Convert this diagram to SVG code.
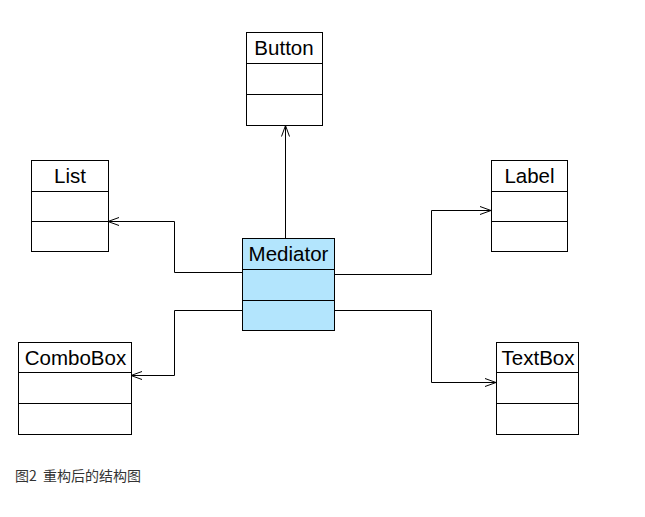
<svg xmlns="http://www.w3.org/2000/svg" width="645" height="517" viewBox="0 0 645 517">
<style>
.box{fill:#fff;stroke:#000;stroke-width:1}
.med{fill:#b3e5fd;stroke:#000;stroke-width:1}
.div{stroke:#000;stroke-width:1;fill:none}
.name{font-family:"Liberation Sans",Arial,sans-serif;font-size:20.5px;fill:#000;text-anchor:middle}
.conn{fill:none;stroke:#000;stroke-width:1}
.cap{font-family:"Noto Sans CJK SC","Liberation Sans",sans-serif;font-size:14px;fill:#333;white-space:pre}
</style>
<defs>
<marker id="open" viewBox="0 0 12 10" refX="11" refY="5" markerWidth="12" markerHeight="10" markerUnits="userSpaceOnUse" orient="auto">
<path d="M0,1 L11,5 L0,9" fill="none" stroke="#000" stroke-width="1"/>
</marker>
</defs>
<rect width="645" height="517" fill="#fff"/>
<g id="connectors">
<path class="conn" d="M285.5,238 V125.5" marker-end="url(#open)"/>
<path class="conn" d="M242,272.5 H174.5 V221.5 H108" marker-end="url(#open)"/>
<path class="conn" d="M242,310.5 H174.5 V375.5 H131" marker-end="url(#open)"/>
<path class="conn" d="M334,274.5 H431.5 V210.5 H491" marker-end="url(#open)"/>
<path class="conn" d="M334,310.5 H431.5 V382.5 H496" marker-end="url(#open)"/>
</g>
<g id="Button">
<rect class="box" x="246.5" y="32.5" width="76" height="93"/>
<path class="div" d="M246.5,63.5 H322.5 M246.5,94.5 H322.5"/>
<text class="name" x="284" y="55">Button</text>
</g>
<g id="Mediator">
<rect class="med" x="242.5" y="238.5" width="92" height="92"/>
<path class="div" d="M242.5,269.5 H334.5 M242.5,300.5 H334.5"/>
<text class="name" x="288.5" y="261">Mediator</text>
</g>
<g id="List">
<rect class="box" x="31.5" y="160.5" width="77" height="91"/>
<path class="div" d="M31.5,191.5 H108.5 M31.5,221.5 H108.5"/>
<text class="name" x="70" y="183">List</text>
</g>
<g id="ComboBox">
<rect class="box" x="18.5" y="342.5" width="113" height="92"/>
<path class="div" d="M18.5,372.5 H131.5 M18.5,403.5 H131.5"/>
<text class="name" x="75.5" y="365">ComboBox</text>
</g>
<g id="Label">
<rect class="box" x="491.5" y="160.5" width="76" height="91"/>
<path class="div" d="M491.5,191.5 H567.5 M491.5,221.5 H567.5"/>
<text class="name" x="529.5" y="183">Label</text>
</g>
<g id="TextBox">
<rect class="box" x="496.5" y="342.5" width="82" height="92"/>
<path class="div" d="M496.5,372.5 H578.5 M496.5,403.5 H578.5"/>
<text class="name" x="538" y="365">TextBox</text>
</g>
<text class="cap" x="15" y="481" xml:space="preserve">图2  重构后的结构图</text>
</svg>
